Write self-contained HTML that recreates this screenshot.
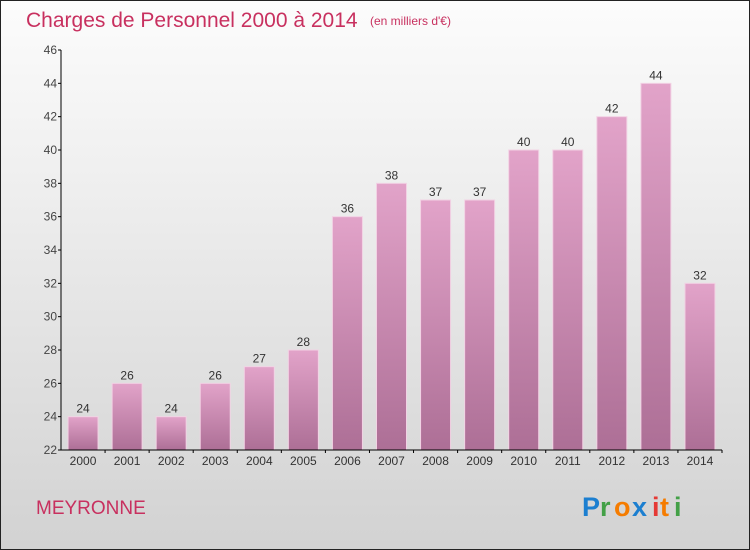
<!DOCTYPE html>
<html><head><meta charset="utf-8"><style>
body{margin:0}
#c{width:748px;height:548px;border:1px solid #222;background:linear-gradient(#fcfcfc,#f0f0f0 30%,#d2d2d2);position:relative;overflow:hidden;font-family:"Liberation Sans",sans-serif}
</style></head><body>
<div id="c">
<svg width="748" height="548" viewBox="1 1 748 548" style="position:absolute;left:0;top:0">
<defs><linearGradient id="g" x1="0" y1="0" x2="0" y2="1"><stop offset="0" stop-color="#e2a3c9"/><stop offset="1" stop-color="#ad6f96"/></linearGradient></defs>
<text x="26" y="27" font-size="21" fill="#c8305f">Charges de Personnel 2000 à 2014</text>
<text x="370" y="25" font-size="12" fill="#c8305f">(en milliers d'€)</text>
<g id="plot"></g>
<text x="36" y="514" font-size="19" fill="#c8305f">MEYRONNE</text>
<g font-size="27" font-weight="bold">
<text x="582" y="516" fill="#1c7fd0">P</text><text x="600" y="516" fill="#43a047">r</text><text x="614" y="516" fill="#f57c00">o</text><text x="632" y="516" fill="#1c7fd0">x</text><text x="652" y="516" fill="#e53935">i</text><text x="660" y="516" fill="#f57c00">t</text><text x="674" y="516" fill="#43a047">i</text>
</g>
</svg>
</div>
<script>
const years=["2000","2001","2002","2003","2004","2005","2006","2007","2008","2009","2010","2011","2012","2013","2014"];
const values=[24,26,24,26,27,28,36,38,37,37,40,40,42,44,32];
const yTicks=[22,24,26,28,30,32,34,36,38,40,42,44,46];
const NS="http://www.w3.org/2000/svg",g=document.getElementById('plot');
const x0=61,x1=722,yb=450,yt=50,ymin=22,ymax=46;
const y=v=>yb-(v-ymin)/(ymax-ymin)*(yb-yt);
const step=(x1-x0)/years.length;
const xc=i=>x0+step*(i+0.5);
function mk(t,a){const e=document.createElementNS(NS,t);for(const k in a)e.setAttribute(k,a[k]);g.appendChild(e);return e;}
yTicks.forEach(v=>{
const l=mk('line',{x1:x0-3,x2:x0,y1:y(v),y2:y(v),stroke:'#000'});


const t=mk('text',{x:x0-4,y:y(v)+4,'font-size':12,fill:'#444','text-anchor':'end'});t.textContent=v;


});
values.forEach((v,i)=>{
const r=mk('rect',{x:xc(i)-15,y:y(v),width:30,height:yb-y(v),fill:'url(#g)',stroke:'#f2d2e4','stroke-width':1});


const t=mk('text',{x:xc(i),y:y(v)-4,'font-size':12,fill:'#333','text-anchor':'middle'});t.textContent=v;


const l=mk('text',{x:xc(i),y:yb+15,'font-size':12,fill:'#333','text-anchor':'middle'});l.textContent=years[i];


const tk=mk('line',{x1:x0+step*(i+1),x2:x0+step*(i+1),y1:yb,y2:yb+3,stroke:'#000'});


});
const ya=mk('line',{x1:x0,x2:x0,y1:yt,y2:yb,stroke:'#000'});


const xa=mk('line',{x1:x0,x2:x1,y1:yb,y2:yb,stroke:'#000'});


</script>
</body></html>
